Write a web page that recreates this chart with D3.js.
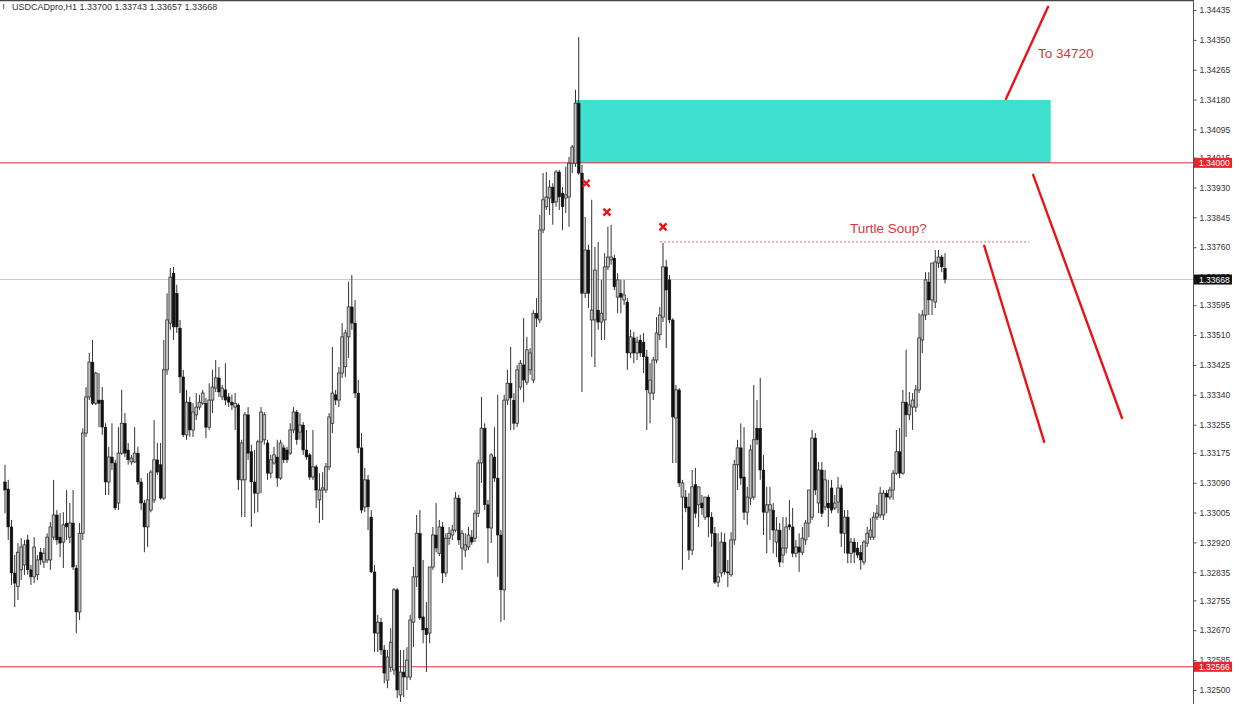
<!DOCTYPE html>
<html>
<head>
<meta charset="utf-8">
<script src="https://cdn.jsdelivr.net/npm/d3@7"></script>
<style>
  html, body { margin: 0; padding: 0; background: #fff; }
  svg { display: block; font-family: "Liberation Sans", Arial, sans-serif; }
</style>
</head>
<body>
<svg id="chart" width="1234" height="704"></svg>
<script>
// header of the chart window
const symbol = "USDCADpro,H1";
const lastBar = [1.33700, 1.33743, 1.33657, 1.33668]; // open high low close

// hourly bars (oldest first)
const open = [
  1.33092,1.33072,1.32964,1.32833,1.32795,1.32842,1.32856,1.32927,1.32842,1.32822,
  1.32828,1.32892,1.32864,1.32870,1.32870,1.32935,1.32998,1.32935,1.32921,1.32975,
  1.32935,1.32975,1.32847,1.32722,1.32946,1.33231,1.33334,1.33433,1.33316,1.33325,
  1.33325,1.33248,1.33092,1.33163,1.33146,1.33032,1.33174,1.33259,1.33183,1.33149,
  1.33149,1.33174,1.33092,1.33032,1.32964,1.33012,1.33041,1.33155,1.33141,1.33046,
  1.33411,1.33544,1.33686,1.33629,1.33530,1.33391,1.33226,1.33319,1.33240,1.33283,
  1.33305,1.33316,1.33316,1.33248,1.33325,1.33359,1.33388,1.33334,1.33354,1.33334,
  1.33319,1.33305,1.33311,1.33098,1.33098,1.33283,1.33178,1.33092,1.33060,1.33206,
  1.33212,1.33203,1.33117,1.33146,1.33163,1.33103,1.33189,1.33183,1.33174,1.33240,
  1.33291,1.33234,1.33254,1.33183,1.33169,1.33106,1.33135,1.33041,1.33069,1.33069,
  1.33135,1.33259,1.33340,1.33325,1.33402,1.33420,1.33505,1.33590,1.33544,1.33345,
  1.33189,1.33021,1.33098,1.32992,1.32836,1.32662,1.32693,1.32614,1.32528,1.32565,
  1.32557,1.32785,1.32486,1.32551,1.32537,1.32537,1.32693,1.32822,1.32946,1.32708,
  1.32676,1.32662,1.32850,1.32941,1.32889,1.32964,1.32833,1.32932,1.32941,1.32955,
  1.33046,1.32904,1.32898,1.32907,1.32935,1.32932,1.33003,1.33146,1.33245,1.33027,
  1.32961,1.33163,1.33103,1.32941,1.32785,1.33325,1.33373,1.33325,1.33259,1.33362,
  1.33425,1.33376,1.33411,1.33382,1.33572,1.33553,1.33809,1.33875,1.33900,1.33931,
  1.33889,1.33974,1.33914,1.33900,1.33903,1.33999,1.33999,1.34170,1.33971,1.33629,
  1.33752,1.33553,1.33553,1.33581,1.33547,1.33553,1.33704,1.33724,1.33729,1.33618,
  1.33629,1.33610,1.33604,1.33459,1.33502,1.33459,1.33496,1.33490,1.33448,1.33345,
  1.33345,1.33439,1.33511,1.33561,1.33704,1.33667,1.33553,1.33274,1.33354,1.33049,
  1.33049,1.33021,1.32898,1.33084,1.33027,1.33032,1.32992,1.33049,1.32992,1.32946,
  1.32807,1.32833,1.32921,1.32836,1.32828,1.32927,1.33141,1.33189,1.33106,1.33006,
  1.33046,1.33049,1.33245,1.33245,1.33126,1.33006,1.33012,1.33012,1.32921,1.32955,
  1.32884,1.32904,1.32970,1.32964,1.32889,1.32907,1.32892,1.32927,1.32975,1.32992,
  1.33217,1.33032,1.33126,1.33021,1.33032,1.33075,1.33018,1.33035,1.33075,1.32946,
  1.32992,1.32889,1.32921,1.32904,1.32892,1.32864,1.32918,1.32935,1.32935,1.32992,
  1.32998,1.32998,1.33060,1.33049,1.33069,1.33117,1.33178,1.33117,1.33319,1.33283,
  1.33305,1.33305,1.33354,1.33496,1.33567,1.33661,1.33610,1.33604,1.33715,1.33732,
  lastBar[0]
];
const high = [
  1.33141,1.33098,1.32984,1.32884,1.32918,1.32932,1.32927,1.32941,1.32856,1.32935,
  1.32884,1.32904,1.32904,1.32946,1.32978,1.33098,1.33012,1.33003,1.33006,1.33069,
  1.33032,1.33069,1.32856,1.32975,1.33245,1.33362,1.33459,1.33496,1.33405,1.33402,
  1.33362,1.33259,1.33192,1.33259,1.33155,1.33248,1.33354,1.33288,1.33203,1.33169,
  1.33248,1.33192,1.33103,1.33041,1.33117,1.33126,1.33268,1.33203,1.33203,1.33496,
  1.33629,1.33701,1.33704,1.33653,1.33553,1.33411,1.33354,1.33334,1.33316,1.33345,
  1.33340,1.33354,1.33331,1.33373,1.33411,1.33439,1.33419,1.33368,1.33430,1.33345,
  1.33340,1.33345,1.33316,1.33212,1.33291,1.33305,1.33198,1.33183,1.33212,1.33305,
  1.33291,1.33212,1.33169,1.33192,1.33212,1.33212,1.33198,1.33192,1.33259,1.33305,
  1.33297,1.33288,1.33262,1.33240,1.33174,1.33240,1.33141,1.33117,1.33120,1.33146,
  1.33288,1.33476,1.33354,1.33419,1.33544,1.33525,1.33661,1.33681,1.33610,1.33382,
  1.33231,1.33132,1.33112,1.33012,1.32856,1.32714,1.32705,1.32628,1.32614,1.32676,
  1.32790,1.32790,1.32614,1.32614,1.32622,1.32714,1.32850,1.32998,1.33012,1.32870,
  1.32750,1.32850,1.32964,1.33032,1.32984,1.32978,1.32946,1.32964,1.32970,1.33063,
  1.33055,1.32955,1.32946,1.32964,1.32955,1.33012,1.33155,1.33334,1.33259,1.33041,
  1.33174,1.33248,1.33340,1.32955,1.33340,1.33411,1.33476,1.33345,1.33425,1.33439,
  1.33558,1.33505,1.33473,1.33581,1.33615,1.33852,1.33971,1.33974,1.33951,1.33942,
  1.33980,1.33980,1.33931,1.33989,1.34017,1.34051,1.34208,1.34358,1.33994,1.33846,
  1.33767,1.33895,1.33761,1.33775,1.33667,1.33743,1.33818,1.33824,1.33738,1.33686,
  1.33667,1.33667,1.33615,1.33525,1.33519,1.33505,1.33511,1.33516,1.33468,1.33430,
  1.33448,1.33561,1.33590,1.33772,1.33724,1.33681,1.33558,1.33368,1.33359,1.33098,
  1.33069,1.33060,1.33126,1.33132,1.33078,1.33055,1.33049,1.33055,1.33006,1.32964,
  1.32946,1.32949,1.32946,1.32870,1.32949,1.33155,1.33212,1.33259,1.33248,1.33078,
  1.33198,1.33368,1.33325,1.33388,1.33169,1.33078,1.33078,1.33032,1.32992,1.32975,
  1.32992,1.32992,1.33041,1.33018,1.32927,1.32946,1.32964,1.32984,1.33069,1.33240,
  1.33231,1.33149,1.33149,1.33126,1.33098,1.33098,1.33055,1.33106,1.33084,1.33012,
  1.33012,1.32932,1.32932,1.32921,1.32913,1.32927,1.32964,1.32989,1.33006,1.33027,
  1.33078,1.33069,1.33069,1.33078,1.33126,1.33240,1.33245,1.33354,1.33468,1.33348,
  1.33345,1.33368,1.33572,1.33581,1.33689,1.33689,1.33715,1.33752,1.33752,1.33738,
  lastBar[1]
];
const low = [
  1.33003,1.32927,1.32799,1.32736,1.32756,1.32813,1.32828,1.32828,1.32799,1.32804,
  1.32813,1.32856,1.32847,1.32861,1.32842,1.32927,1.32913,1.32878,1.32847,1.32927,
  1.32918,1.32842,1.32662,1.32699,1.32927,1.33220,1.33325,1.33311,1.33311,1.33248,
  1.33226,1.33055,1.33055,1.33126,1.33012,1.33012,1.33169,1.33163,1.33141,1.33141,
  1.33146,1.33084,1.33012,1.32892,1.32907,1.33006,1.33032,1.33112,1.33041,1.33041,
  1.33397,1.33525,1.33496,1.33516,1.33345,1.33220,1.33212,1.33220,1.33220,1.33268,
  1.33297,1.33311,1.33217,1.33240,1.33288,1.33348,1.33334,1.33325,1.33311,1.33305,
  1.33297,1.33240,1.33069,1.32992,1.32992,1.33155,1.32964,1.33003,1.33006,1.33060,
  1.33198,1.33098,1.33103,1.33141,1.33078,1.33098,1.33146,1.33146,1.33169,1.33231,
  1.33198,1.33212,1.33169,1.33155,1.33098,1.33098,1.33018,1.32975,1.32984,1.33060,
  1.33126,1.33231,1.33311,1.33305,1.33388,1.33391,1.33445,1.33525,1.33331,1.33174,
  1.33003,1.33006,1.32955,1.32833,1.32608,1.32608,1.32600,1.32519,1.32505,1.32551,
  1.32543,1.32477,1.32466,1.32480,1.32500,1.32528,1.32622,1.32793,1.32699,1.32633,
  1.32551,1.32633,1.32842,1.32892,1.32881,1.32804,1.32822,1.32913,1.32927,1.32949,
  1.32913,1.32842,1.32878,1.32898,1.32913,1.32921,1.32992,1.33089,1.33012,1.32861,
  1.32918,1.33092,1.32822,1.32693,1.32699,1.33311,1.33240,1.33240,1.33248,1.33354,
  1.33319,1.33368,1.33397,1.33373,1.33533,1.33544,1.33800,1.33866,1.33852,1.33824,
  1.33875,1.33866,1.33809,1.33857,1.33818,1.33971,1.33989,1.33966,1.33348,1.33615,
  1.33587,1.33448,1.33419,1.33525,1.33496,1.33496,1.33695,1.33710,1.33638,1.33572,
  1.33572,1.33596,1.33411,1.33445,1.33430,1.33439,1.33448,1.33402,1.33240,1.33259,
  1.33325,1.33430,1.33496,1.33547,1.33473,1.33544,1.33146,1.33146,1.33078,1.32842,
  1.33006,1.32870,1.32884,1.32989,1.32964,1.32998,1.32984,1.32935,1.32907,1.32802,
  1.32793,1.32822,1.32828,1.32793,1.32822,1.32913,1.33069,1.33084,1.32984,1.32970,
  1.33027,1.33041,1.33198,1.33098,1.32941,1.32889,1.32927,1.32889,1.32878,1.32850,
  1.32861,1.32889,1.32955,1.32878,1.32878,1.32836,1.32884,1.32913,1.32935,1.32984,
  1.33055,1.33003,1.32992,1.33012,1.32964,1.33003,1.33012,1.33003,1.32907,1.32889,
  1.32861,1.32861,1.32861,1.32875,1.32842,1.32856,1.32907,1.32927,1.32927,1.32984,
  1.32989,1.32984,1.33003,1.33041,1.33041,1.33112,1.33103,1.33112,1.33220,1.33268,
  1.33240,1.33291,1.33345,1.33459,1.33553,1.33567,1.33567,1.33587,1.33701,1.33689,
  lastBar[2]
];
const close = [
  1.33069,1.32964,1.32833,1.32804,1.32892,1.32907,1.32913,1.32842,1.32822,1.32907,
  1.32870,1.32870,1.32889,1.32935,1.32964,1.32998,1.32927,1.32918,1.32970,1.32964,
  1.32975,1.32850,1.32722,1.32946,1.33231,1.33334,1.33433,1.33316,1.33402,1.33316,
  1.33248,1.33092,1.33163,1.33146,1.33018,1.33174,1.33259,1.33174,1.33155,1.33160,
  1.33174,1.33092,1.33032,1.32964,1.33041,1.33120,1.33155,1.33120,1.33046,1.33411,
  1.33553,1.33675,1.33533,1.33533,1.33391,1.33226,1.33319,1.33240,1.33291,1.33305,
  1.33319,1.33345,1.33248,1.33325,1.33362,1.33388,1.33348,1.33359,1.33325,1.33319,
  1.33311,1.33316,1.33098,1.33203,1.33283,1.33174,1.33092,1.33060,1.33206,1.33291,
  1.33283,1.33117,1.33155,1.33169,1.33103,1.33203,1.33155,1.33155,1.33240,1.33291,
  1.33212,1.33254,1.33183,1.33163,1.33106,1.33135,1.33069,1.33069,1.33075,1.33135,
  1.33277,1.33345,1.33325,1.33402,1.33505,1.33516,1.33590,1.33544,1.33345,1.33189,
  1.33012,1.33098,1.33021,1.32836,1.32662,1.32693,1.32614,1.32548,1.32594,1.32636,
  1.32785,1.32500,1.32551,1.32537,1.32585,1.32699,1.32822,1.32946,1.32705,1.32671,
  1.32657,1.32850,1.32941,1.32904,1.32964,1.32833,1.32932,1.32946,1.32955,1.33046,
  1.32927,1.32946,1.32913,1.32941,1.32921,1.33003,1.33146,1.33245,1.33027,1.32961,
  1.33169,1.33103,1.32941,1.32785,1.33325,1.33373,1.33331,1.33259,1.33411,1.33430,
  1.33382,1.33468,1.33459,1.33572,1.33558,1.33809,1.33895,1.33903,1.33931,1.33886,
  1.33974,1.33903,1.33875,1.33909,1.33999,1.34045,1.34170,1.33971,1.33629,1.33752,
  1.33629,1.33581,1.33695,1.33547,1.33572,1.33704,1.33732,1.33732,1.33647,1.33667,
  1.33618,1.33624,1.33459,1.33505,1.33459,1.33490,1.33459,1.33448,1.33354,1.33382,
  1.33439,1.33516,1.33567,1.33704,1.33638,1.33553,1.33277,1.33354,1.33089,1.33089,
  1.33018,1.32898,1.33078,1.33003,1.33078,1.33018,1.33049,1.32992,1.32946,1.32807,
  1.32822,1.32921,1.32836,1.32833,1.32927,1.33141,1.33189,1.33103,1.33006,1.33049,
  1.33183,1.33212,1.33212,1.33126,1.33006,1.33027,1.33027,1.32955,1.32955,1.32864,
  1.32904,1.32964,1.32964,1.32889,1.32907,1.32892,1.32932,1.32975,1.33069,1.33217,
  1.33069,1.33126,1.33003,1.33098,1.33018,1.33012,1.33032,1.33075,1.32946,1.32992,
  1.32889,1.32921,1.32892,1.32884,1.32870,1.32921,1.32946,1.32955,1.32992,1.33003,
  1.33060,1.33060,1.33049,1.33069,1.33117,1.33178,1.33117,1.33319,1.33283,1.33311,
  1.33325,1.33354,1.33502,1.33567,1.33667,1.33610,1.33715,1.33718,1.33732,1.33704,
  lastBar[3]
];

// price axis labels
const priceTicks = [1.34435, 1.34350, 1.34265, 1.34180, 1.34095, 1.34015, 1.33930,
  1.33845, 1.33760, 1.33675, 1.33595, 1.33510, 1.33425, 1.33340, 1.33255, 1.33175,
  1.33090, 1.33005, 1.32920, 1.32835, 1.32755, 1.32670, 1.32585, 1.32500];

// horizontal levels drawn on the chart
const levelPrices = [1.34000, 1.32566];
const bidPrice = 1.33668;

// drawings (bar index, price)
const zone = { from: 175.9, to: 322.6, top: 1.34179, bottom: 1.34000 };
const strokes = [
  { i1: 308.8, p1: 1.34182, i2: 321.8, p2: 1.34444 },
  { i1: 317.2, p1: 1.33966, i2: 344.6, p2: 1.33274 },
  { i1: 302.1, p1: 1.33764, i2: 320.6, p2: 1.33206 }
];
const crosses = [
  { i: 179.3, p: 1.33942 },
  { i: 185.7, p: 1.33860 },
  { i: 203.0, p: 1.33818 }
];
const soupLine = { from: 202.1, to: 316.0, price: 1.33775 };
const notes = [
  { text: "Turtle Soup?", i: 260.7, p: 1.33800 },
  { text: "To 34720", i: 318.7, p: 1.34298 }
];

const bars = open.map((o, i) => ({ i: i, o: o, h: high[i], l: low[i], c: close[i] }));

const svg = d3.select("#chart");
const W = 1234, H = 704, axisX = 1193;
const red = "#e5262a";

const x = d3.scaleLinear().domain([0, bars.length - 1]).range([5, 945]);
const y = d3.scaleLinear().domain([1.32500, 1.34435]).range([690, 10]);

// frame
svg.append("rect").attr("width", W).attr("height", H).attr("fill", "#fff");
svg.append("line").attr("x1", 0).attr("x2", W).attr("y1", 0.5).attr("y2", 0.5)
  .attr("stroke", "#444").attr("stroke-width", 1.5);

const plot = svg.append("g");

// supply zone
plot.append("rect")
  .attr("x", x(zone.from))
  .attr("y", y(zone.top))
  .attr("width", x(zone.to) - x(zone.from))
  .attr("height", y(zone.bottom) - y(zone.top))
  .attr("fill", "#40e0d0");

// level lines
plot.selectAll(".level").data(levelPrices).enter().append("line")
  .attr("x1", 0).attr("x2", axisX)
  .attr("y1", d => y(d)).attr("y2", d => y(d))
  .attr("stroke", red).attr("stroke-width", 1);
plot.append("line")
  .attr("x1", 0).attr("x2", axisX)
  .attr("y1", y(bidPrice)).attr("y2", y(bidPrice))
  .attr("stroke", "#c8c8c8").attr("stroke-width", 1);

// candles
const bodyW = 2.8;
const candle = plot.selectAll(".bar").data(bars).enter().append("g");
candle.append("line")
  .attr("x1", d => x(d.i)).attr("x2", d => x(d.i))
  .attr("y1", d => y(d.h)).attr("y2", d => y(d.l))
  .attr("stroke", "#333").attr("stroke-width", 1);
candle.append("rect")
  .attr("x", d => x(d.i) - bodyW / 2)
  .attr("width", bodyW)
  .attr("y", d => y(Math.max(d.o, d.c)))
  .attr("height", d => Math.max(0.8, Math.abs(y(d.o) - y(d.c))))
  .attr("fill", d => d.c >= d.o ? "#c4c4c4" : "#111")
  .attr("stroke", d => d.c >= d.o ? "#333" : "#111")
  .attr("stroke-width", d => d.c >= d.o ? 0.8 : 0.4);

// dashed high line
plot.append("line")
  .attr("x1", x(soupLine.from)).attr("x2", x(soupLine.to))
  .attr("y1", y(soupLine.price)).attr("y2", y(soupLine.price))
  .attr("stroke", "#e06060").attr("stroke-width", 1)
  .attr("stroke-dasharray", "2,2");

// hand-drawn strokes
plot.selectAll(".stroke").data(strokes).enter().append("line")
  .attr("x1", d => x(d.i1)).attr("y1", d => y(d.p1))
  .attr("x2", d => x(d.i2)).attr("y2", d => y(d.p2))
  .attr("stroke", "#e8141a").attr("stroke-width", 2.4)
  .attr("stroke-linecap", "round");

// cross markers
plot.selectAll(".cross").data(crosses).enter().append("path")
  .attr("d", d => {
    const cx = x(d.i), cy = y(d.p), r = 3.5;
    return `M${cx - r},${cy - r}L${cx + r},${cy + r}M${cx - r},${cy + r}L${cx + r},${cy - r}`;
  })
  .attr("stroke", "#e8141a").attr("stroke-width", 2.4).attr("fill", "none");

// notes
plot.selectAll(".note").data(notes).enter().append("text")
  .attr("x", d => x(d.i)).attr("y", d => y(d.p))
  .attr("fill", "#d9363a").attr("font-size", 13.5)
  .text(d => d.text);

// title
svg.append("text")
  .attr("x", 12).attr("y", 10)
  .attr("font-size", 9).attr("fill", "#333")
  .text(symbol + "  " + lastBar.map(d3.format(".5f")).join(" "));
svg.append("rect").attr("x", 3).attr("y", 4).attr("width", 1.2).attr("height", 5).attr("fill", "#777");

// price axis
svg.append("rect").attr("x", axisX).attr("y", 0).attr("width", W - axisX).attr("height", H).attr("fill", "#fff");
svg.append("line").attr("x1", axisX + 0.5).attr("x2", axisX + 0.5).attr("y1", 0).attr("y2", H)
  .attr("stroke", "#555").attr("stroke-width", 1);

const axis = svg.append("g")
  .attr("transform", `translate(${axisX + 0.5},0)`)
  .call(d3.axisRight(y).tickValues(priceTicks).tickSize(3).tickSizeOuter(0).tickPadding(3)
    .tickFormat(d3.format(".5f")));
axis.select(".domain").remove();
axis.selectAll("line").attr("stroke", "#555");
axis.selectAll("text").attr("font-size", 8.5).attr("fill", "#333")
  .attr("font-family", "'Liberation Sans', Arial, sans-serif");

// level / bid price tags
const tags = levelPrices.map(p => ({ p: p, bg: red }))
  .concat([{ p: bidPrice, bg: "#111" }]);
const tag = svg.selectAll(".tag").data(tags).enter().append("g")
  .attr("transform", d => `translate(${axisX + 1},${y(d.p)})`);
tag.append("rect").attr("x", 0).attr("y", -5).attr("width", 38).attr("height", 10)
  .attr("fill", d => d.bg);
tag.append("text").attr("x", 5).attr("y", 3.2)
  .attr("font-size", 8.5).attr("fill", "#fff")
  .text(d => d3.format(".5f")(d.p));
</script>
</body>
</html>
